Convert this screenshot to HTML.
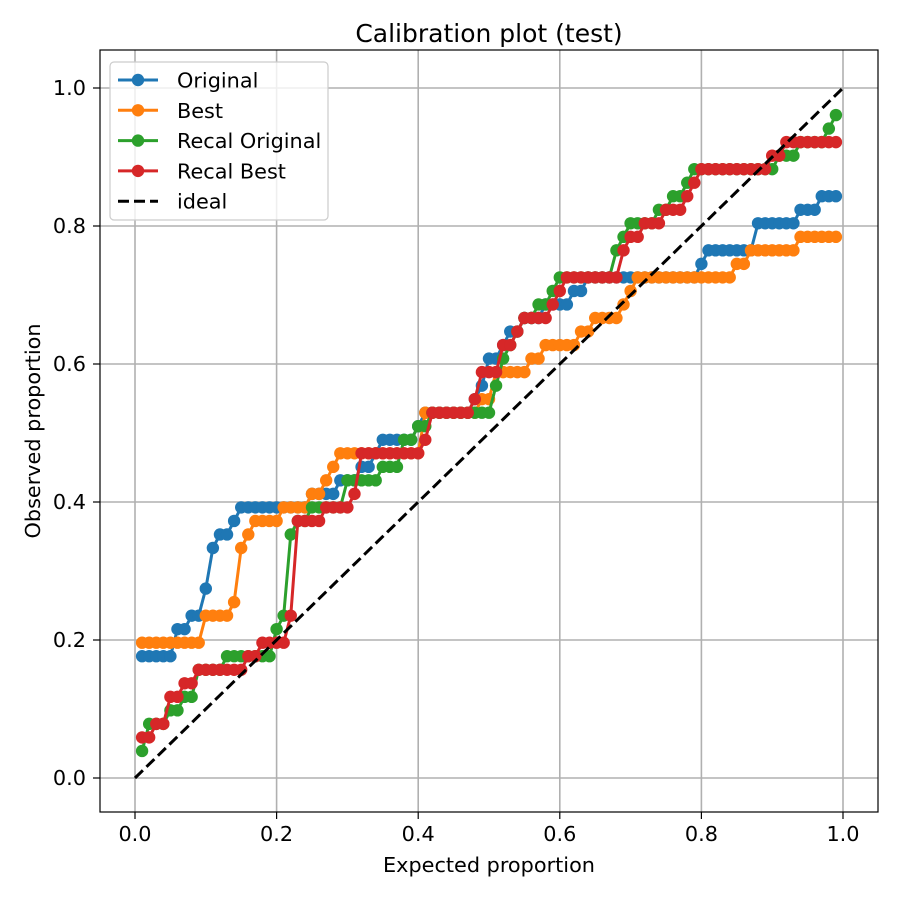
<!DOCTYPE html>
<html><head><meta charset="utf-8"><style>
body{margin:0;background:#fff}
svg{display:block;font-family:"DejaVu Sans","Liberation Sans",sans-serif}
</style></head><body>
<svg id="chart" width="900" height="900" viewBox="0 0 900 900">
<rect width="900" height="900" fill="#fff"/>
<text x="489" y="42" font-size="25" text-anchor="middle">Calibration plot (test)</text>
<g id="grid"></g>
<g id="series"></g>
<rect x="100" y="50" width="778" height="762" fill="none" stroke="#000" stroke-width="1.2"/>
<g id="ticks"></g>
<text x="489" y="872" font-size="20.8" text-anchor="middle">Expected proportion</text>
<text x="40" y="431" font-size="20.8" text-anchor="middle" transform="rotate(-90 40 431)">Observed proportion</text>
<g id="legend"></g>
</svg>
<script>
const denom = 51;
const expected = [];
for (let i = 1; i <= 99; i++) expected.push(i / 100);
const tickValues = [0, 0.2, 0.4, 0.6, 0.8, 1.0];
const tickLabels = ["0.0", "0.2", "0.4", "0.6", "0.8", "1.0"];
const seriesNames = ["Original", "Best", "Recal Original", "Recal Best"];
const originalCounts = [9,9,9,9,9,11,11,12,12,14,17,18,18,19,20,20,20,20,20,20,20,20,20,20,21,21,21,21,22,22,22,23,23,24,25,25,25,25,25,26,27,27,27,27,27,27,27,28,29,31,31,32,33,33,34,34,34,35,35,35,35,36,36,37,37,37,37,37,37,37,37,37,37,37,37,37,37,37,37,38,39,39,39,39,39,39,39,41,41,41,41,41,41,42,42,42,43,43,43];
const bestCounts = [10,10,10,10,10,10,10,10,10,12,12,12,12,13,17,18,19,19,19,19,20,20,20,20,21,21,22,23,24,24,24,24,24,24,24,24,24,24,24,24,27,27,27,27,27,27,27,27,28,28,30,30,30,30,30,31,31,32,32,32,32,32,33,33,34,34,34,34,35,36,37,37,37,37,37,37,37,37,37,37,37,37,37,37,38,38,39,39,39,39,39,39,39,40,40,40,40,40,40];
const recalOriginalCounts = [2,4,4,4,5,5,6,6,8,8,8,8,9,9,9,9,9,9,9,11,12,18,19,19,20,20,20,20,20,22,22,22,22,22,23,23,23,25,25,26,26,27,27,27,27,27,27,27,27,27,29,31,32,33,34,34,35,35,36,37,37,37,37,37,37,37,37,39,40,41,41,41,41,42,42,43,43,44,45,45,45,45,45,45,45,45,45,45,45,45,46,46,46,47,47,47,47,48,49];
const recalBestCounts = [3,3,4,4,6,6,7,7,8,8,8,8,8,8,8,9,9,10,10,10,10,12,19,19,19,19,20,20,20,20,21,24,24,24,24,24,24,24,24,24,25,27,27,27,27,27,27,28,30,30,30,32,32,33,34,34,34,34,35,36,37,37,37,37,37,37,37,37,39,40,40,41,41,41,42,42,42,43,44,45,45,45,45,45,45,45,45,45,45,46,46,47,47,47,47,47,47,47,47];
const idealLine = [0, 1];

const colors = ["#1f77b4", "#ff7f0e", "#2ca02c", "#d62728"];
const NS = "http://www.w3.org/2000/svg";
const X0 = 135, XS = 708, Y0 = 778, YS = 690;
const xs = v => X0 + v * XS;
const ys = v => Y0 - v * YS;
function mk(tag, attrs, parent) {
  const e = document.createElementNS(NS, tag);
  for (const k in attrs) e.setAttribute(k, attrs[k]);
  parent.appendChild(e);
  return e;
}
const grid = document.getElementById("grid");
const ticks = document.getElementById("ticks");
tickValues.forEach((t, i) => {
  const gx = mk("line", {x1: xs(t), x2: xs(t), y1: 50, y2: 812, stroke: "#b0b0b0", "stroke-width": 1.6}, grid);
  
  
  const gy = mk("line", {x1: 100, x2: 878, y1: ys(t), y2: ys(t), stroke: "#b0b0b0", "stroke-width": 1.6}, grid);
  
  
  mk("line", {x1: xs(t), x2: xs(t), y1: 812, y2: 819, stroke: "#000", "stroke-width": 1.2}, ticks);
  mk("line", {x1: 93, x2: 100, y1: ys(t), y2: ys(t), stroke: "#000", "stroke-width": 1.2}, ticks);
  const tx = mk("text", {x: xs(t), y: 841, "font-size": 20.8, "text-anchor": "middle"}, ticks);
  tx.textContent = tickLabels[i];
  
  
  const ty = mk("text", {x: 86, y: ys(t) + 7, "font-size": 20.8, "text-anchor": "end"}, ticks);
  ty.textContent = tickLabels[i];
  
  
});
const sg = document.getElementById("series");
const clip = mk("clipPath", {id: "pc"}, sg);
mk("rect", {x: 100, y: 50, width: 778, height: 762}, clip);
[originalCounts, bestCounts, recalOriginalCounts, recalBestCounts].forEach((counts, si) => {
  const g = mk("g", {"clip-path": "url(#pc)"}, sg);
  
  
  const pts = counts.map((c, i) => xs(expected[i]).toFixed(2) + "," + ys(c / denom).toFixed(2)).join(" ");
  mk("polyline", {points: pts, fill: "none", stroke: colors[si], "stroke-width": 3, "stroke-linejoin": "round"}, g);
  counts.forEach((c, i) => {
    const p = mk("circle", {cx: xs(expected[i]), cy: ys(c / denom), r: 6.2, fill: colors[si]}, g);
    
    
  });
});
const il = mk("line", {x1: xs(idealLine[0]), y1: ys(idealLine[0]), x2: xs(idealLine[1]), y2: ys(idealLine[1]), stroke: "#000", "stroke-width": 3, "stroke-dasharray": "11,5"}, sg);



const lg = document.getElementById("legend");
mk("rect", {x: 110, y: 62, width: 218, height: 158, rx: 4, fill: "#fff", "fill-opacity": 0.8, stroke: "#cccccc", "stroke-width": 1.2}, lg);
const labels = seriesNames.concat(["ideal"]);
labels.forEach((name, i) => {
  const y = 80 + i * 30.3;
  const e = mk("g", {}, lg);
  
  
  if (i < 4) {
    mk("line", {x1: 118, x2: 158, y1: y, y2: y, stroke: colors[i], "stroke-width": 3}, e);
    mk("circle", {cx: 138, cy: y, r: 6.2, fill: colors[i]}, e);
  } else {
    mk("line", {x1: 118, x2: 158, y1: y, y2: y, stroke: "#000", "stroke-width": 3, "stroke-dasharray": "11,5"}, e);
  }
  const t = mk("text", {x: 177, y: y + 7.5, "font-size": 20.8}, e);
  t.textContent = name;
});
</script>
</body></html>
